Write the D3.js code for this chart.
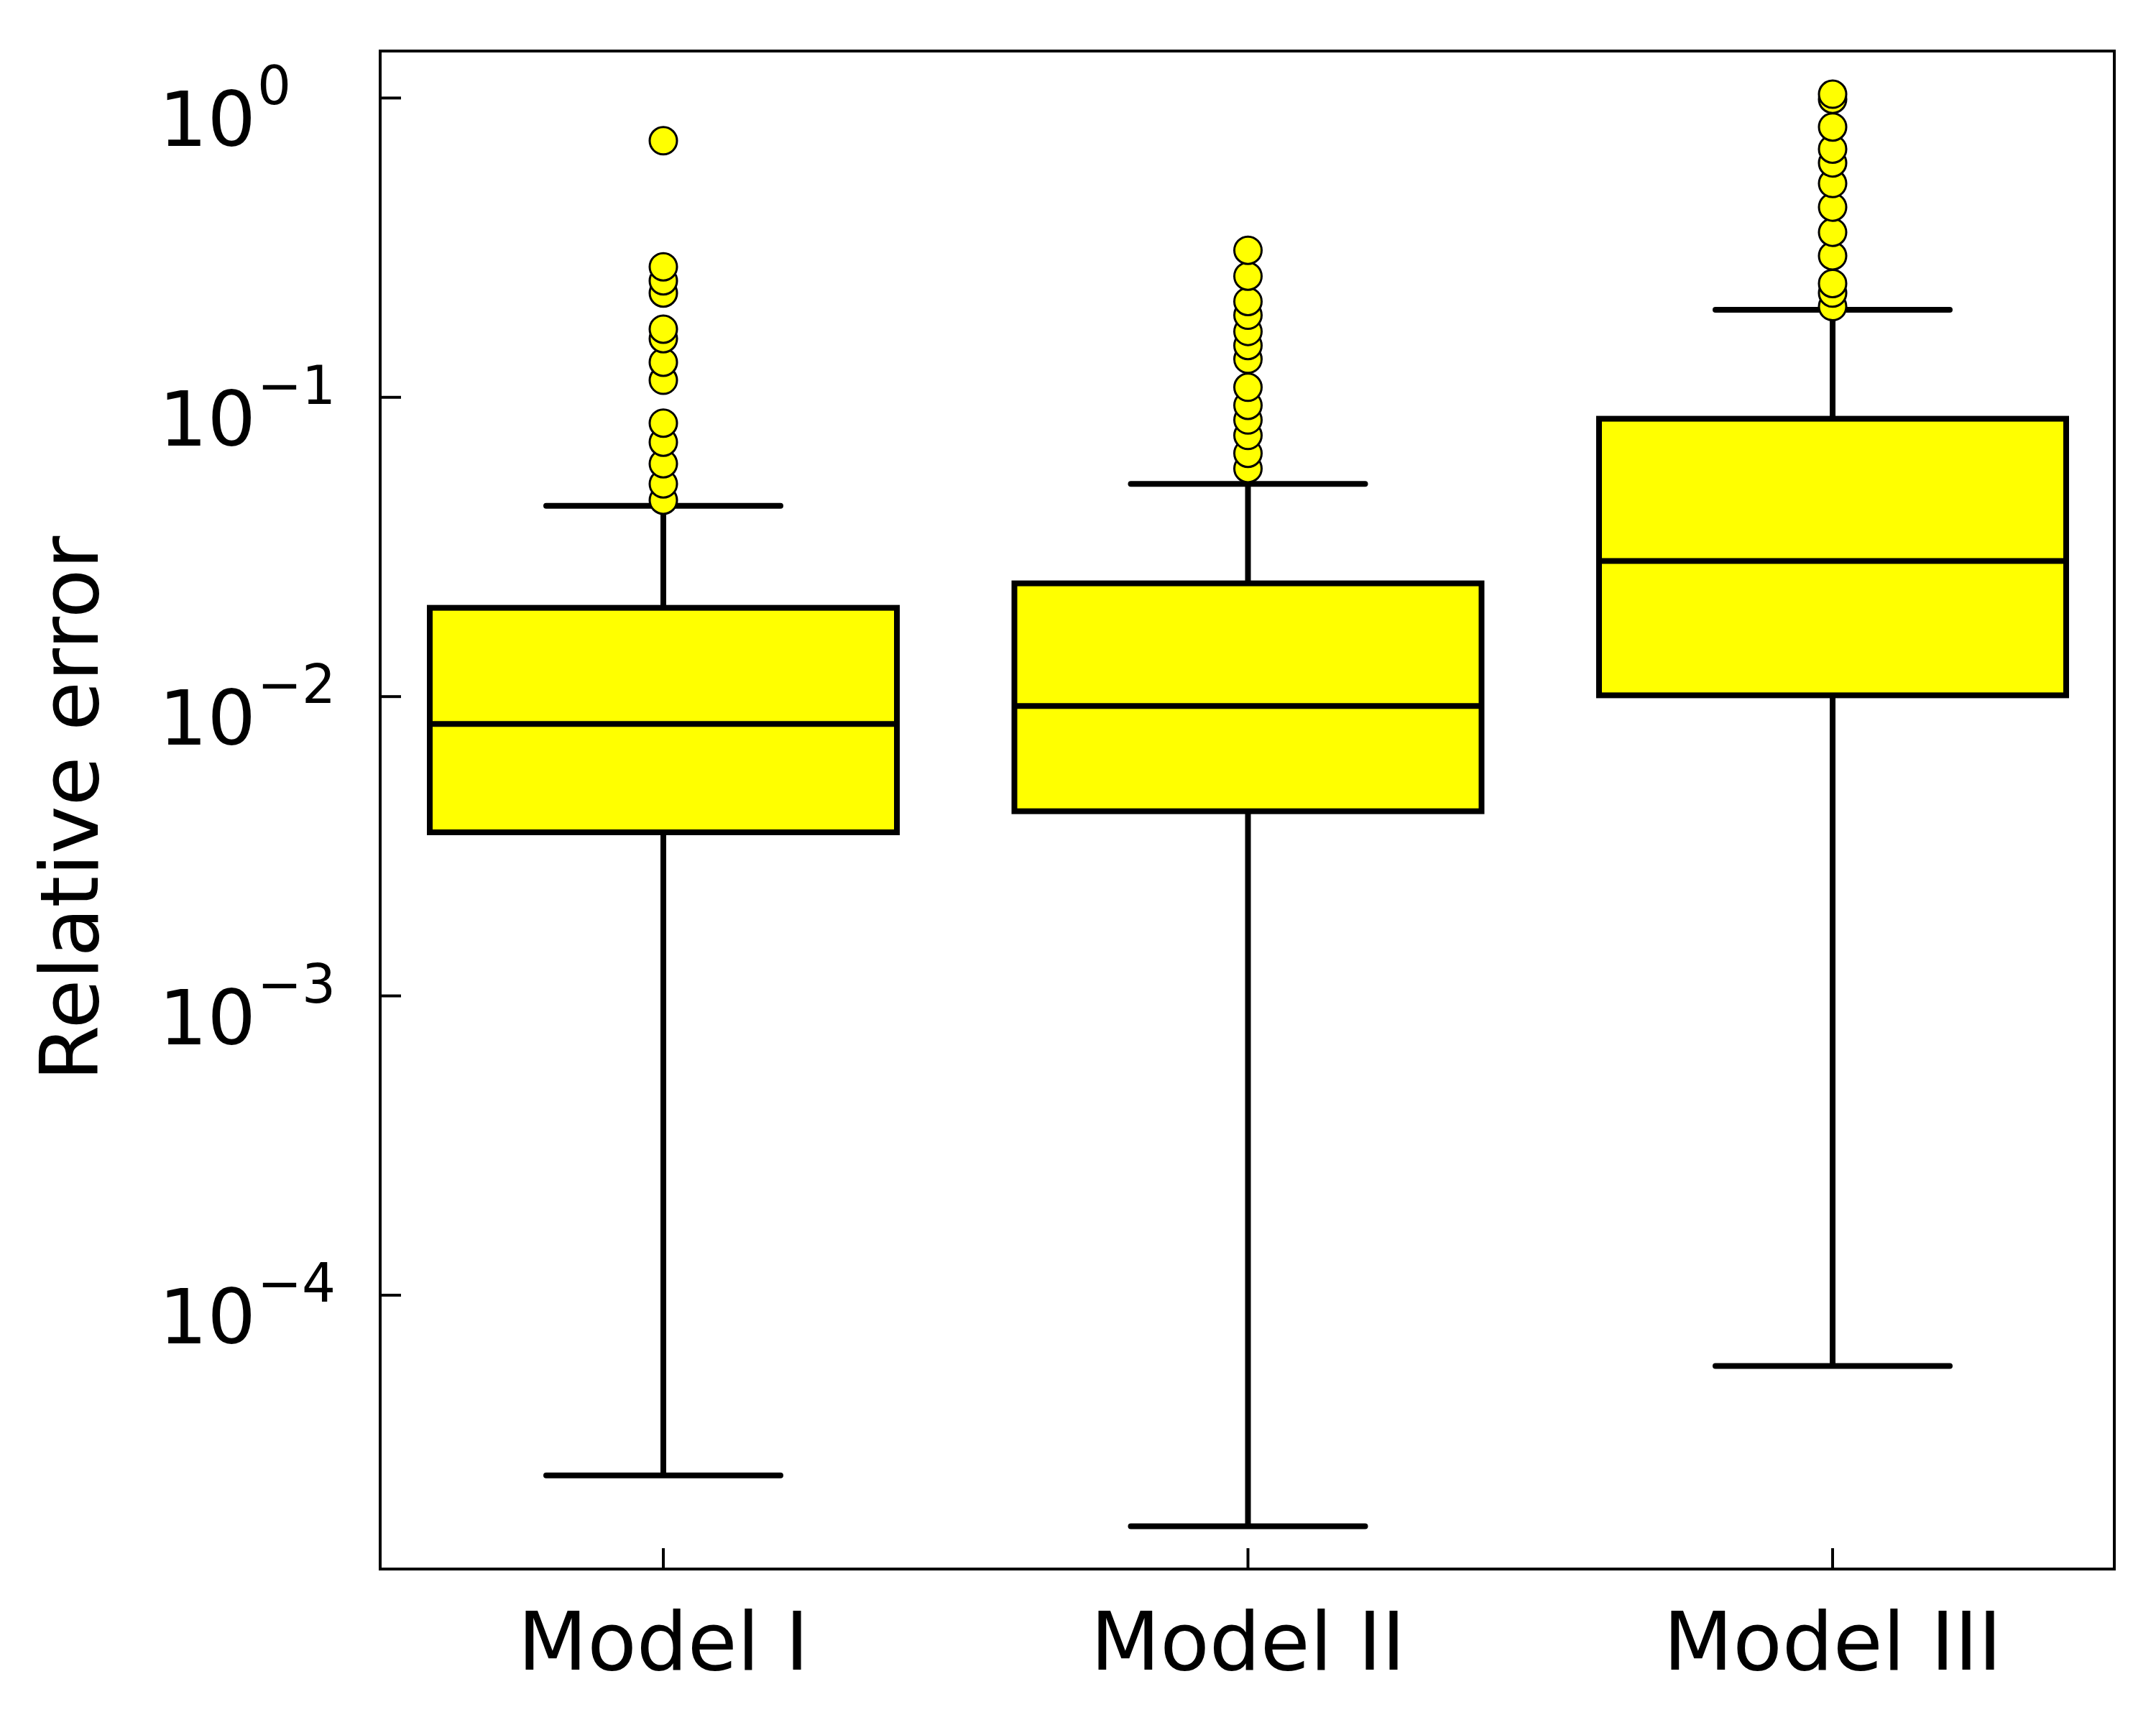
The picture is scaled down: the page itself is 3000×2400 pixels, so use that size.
<!DOCTYPE html>
<html><head><meta charset="utf-8">
<script src="https://cdn.jsdelivr.net/npm/d3@7"></script>
<style>body{margin:0;background:#fff}</style></head>
<body><svg id="c" width="3000" height="2400"></svg>
<script>
const categories = ["Model I","Model II","Model III"];
const q1 = [0.00352, 0.00414, 0.0101];
const median = [0.0081, 0.0093, 0.0284];
const q3 = [0.0198, 0.0239, 0.0848];
const whiskerLow = [2.5e-5, 1.69e-5, 5.8e-5];
const whiskerHigh = [0.0434, 0.0514, 0.196];
const outliers = [
  [0.72,0.273,0.245,0.223,0.169,0.157,0.131,0.114,0.082,0.0708,0.060,0.0514,0.0453],
  [0.31,0.254,0.209,0.188,0.166,0.149,0.134,0.108,0.094,0.084,0.0746,0.065,0.0578],
  [1.03,0.99,0.80,0.675,0.607,0.518,0.432,0.356,0.297,0.240,0.223,0.201]
];
const yTicks = [1e-4,1e-3,1e-2,1e-1,1];
const yTickExp = ["\u22124","\u22123","\u22122","\u22121","0"];

const L=529,R=2942,T=71,B=2183;
const svg=d3.select("#c");
const y=d3.scaleLog().domain([Math.pow(10,-4.915),Math.pow(10,0.157)]).range([B,T]);
const x=d3.scalePoint().domain(categories).range([923,2550]);
const bw=650, cw=326;
const g=svg.append("g");
categories.forEach((c,i)=>{
  const cx=x(c);
  g.append("line").attr("x1",cx).attr("x2",cx).attr("y1",y(whiskerLow[i])).attr("y2",y(q1[i])).attr("stroke","#000").attr("stroke-width",8);
  g.append("line").attr("x1",cx).attr("x2",cx).attr("y1",y(q3[i])).attr("y2",y(whiskerHigh[i])).attr("stroke","#000").attr("stroke-width",8);
  [whiskerLow[i],whiskerHigh[i]].forEach(v=>g.append("line").attr("x1",cx-cw/2).attr("x2",cx+cw/2).attr("y1",y(v)).attr("y2",y(v)).attr("stroke","#000").attr("stroke-width",8).attr("stroke-linecap","round"));
  g.append("rect").attr("x",cx-bw/2).attr("width",bw).attr("y",y(q3[i])).attr("height",y(q1[i])-y(q3[i])).attr("fill","#ffff00").attr("stroke","#000").attr("stroke-width",8);
  g.append("line").attr("x1",cx-bw/2).attr("x2",cx+bw/2).attr("y1",y(median[i])).attr("y2",y(median[i])).attr("stroke","#000").attr("stroke-width",8);
  outliers[i].slice().reverse().forEach(v=>g.append("circle").attr("cx",cx).attr("cy",y(v)).attr("r",19).attr("fill","#ffff00").attr("stroke","#000").attr("stroke-width",3));
});
svg.append("rect").attr("x",L).attr("y",T).attr("width",R-L).attr("height",B-T).attr("fill","none").attr("stroke","#000").attr("stroke-width",4);
const font="DejaVu Sans";
yTicks.forEach((t,i)=>{
  const yy=y(t);
  svg.append("line").attr("x1",L).attr("x2",L+29).attr("y1",yy).attr("y2",yy).attr("stroke","#000").attr("stroke-width",4);
  svg.append("text").attr("x",356).attr("y",yy+67).attr("text-anchor","end").attr("font-family",font).attr("font-size",106).text("10");
  svg.append("text").attr("x",358).attr("y",yy+9).attr("text-anchor","start").attr("font-family",font).attr("font-size",74).text(yTickExp[i]);
});
categories.forEach(c=>{
  svg.append("line").attr("x1",x(c)).attr("x2",x(c)).attr("y1",B).attr("y2",B-29).attr("stroke","#000").attr("stroke-width",4);
  svg.append("text").attr("x",x(c)).attr("y",2323).attr("text-anchor","middle").attr("font-family",font).attr("font-size",112).text(c);
});
svg.append("text").attr("transform","translate(136,1125) rotate(-90)").attr("text-anchor","middle").attr("font-family",font).attr("font-size",112).text("Relative error");
</script></body></html>
